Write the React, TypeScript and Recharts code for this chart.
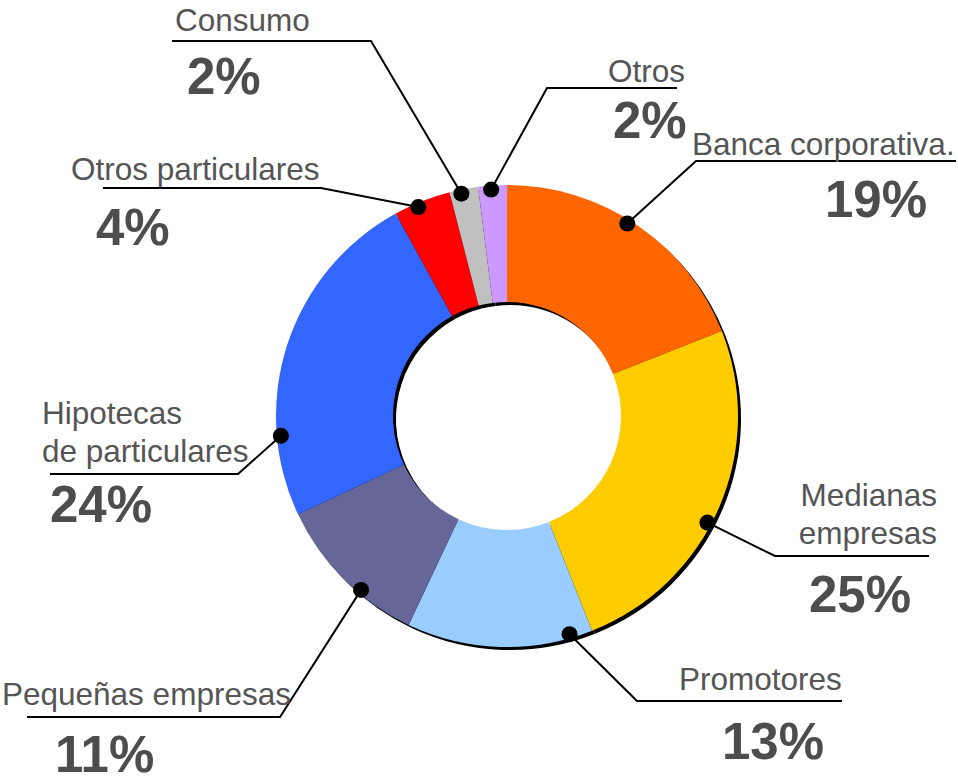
import { PieChart, Pie, Cell } from 'recharts'

// segment data (clockwise from 12 o'clock)
const segments = [
  'Banca corporativa.',
  'Medianas empresas',
  'Promotores',
  'Pequeñas empresas',
  'Hipotecas de particulares',
  'Otros particulares',
  'Consumo',
  'Otros',
]
const shares = [19, 25, 13, 11, 24, 4, 2, 2]
const colors = ['#FF6600', '#FFCC00', '#99CCFF', '#666699', '#3366FF', '#FF0000', '#C0C0C0', '#CC99FF']

// how each label is split into text lines
const labelLines = [
  ['Banca corporativa.'],
  ['Medianas', 'empresas'],
  ['Promotores'],
  ['Pequeñas empresas'],
  ['Hipotecas', 'de particulares'],
  ['Otros particulares'],
  ['Consumo'],
  ['Otros'],
]

const W = 958
const H = 779
const CX = 507
const CY = 416
const OUTER = 231
const INNER = 114

// callout layout: dot angle on the ring, elbow, end of underline, text anchors
const callouts = [
  { dot: 58, elbow: [696, 161], end: 956, nx: 692, ny: 155, anchor: 'start', px: 825, py: 217 },
  { dot: -28, elbow: [775, 556], end: 929, nx: 937, ny: 506, anchor: 'end', px: 809, py: 612 },
  { dot: -74, elbow: [637, 701], end: 842, nx: 679, ny: 690, anchor: 'start', px: 722, py: 759 },
  { dot: -130, elbow: [280, 717], end: 27, nx: 2, ny: 705, anchor: 'start', px: 55, py: 772 },
  { dot: -175, elbow: [238, 474], end: 50, nx: 42, ny: 424, anchor: 'start', px: 50, py: 522 },
  { dot: 113, elbow: [321, 188], end: 103, nx: 71, ny: 180, anchor: 'start', px: 96, py: 245 },
  { dot: 101.6, elbow: [371, 41], end: 172, nx: 175, ny: 31, anchor: 'start', px: 187, py: 94 },
  { dot: 94, elbow: [547, 88], end: 677, nx: 608, ny: 82, anchor: 'start', px: 613, py: 138 },
]

const data = segments.map((name, i) => ({ name, value: shares[i] }))
const total = shares.reduce((s, v) => s + v, 0)

const FONT = '"Liberation Sans", Arial, Helvetica, sans-serif'

function renderCallout(props: any) {
  const { cx, cy, outerRadius, index } = props
  const c = callouts[index]
  const rad = (c.dot * Math.PI) / 180
  const r = outerRadius - 4
  const dx = cx + r * Math.cos(rad)
  const dy = cy - r * Math.sin(rad)
  const pct = `${Math.round((shares[index] / total) * 100)}%`
  return (
    <g key={`callout-${index}`}>
      <polyline
        points={`${dx},${dy} ${c.elbow[0]},${c.elbow[1]} ${c.end},${c.elbow[1]}`}
        fill="none" stroke="#000" strokeWidth={2}
      />
      <circle cx={dx} cy={dy} r={8} fill="#000" />
      <text x={c.nx} y={c.ny} textAnchor={c.anchor} fill="#555555" fontSize={31.5} fontFamily={FONT}>
        {labelLines[index].map((t, j) => (
          <tspan key={j} x={c.nx} dy={j === 0 ? 0 : 38}>{t}</tspan>
        ))}
      </text>
      <text x={c.px} y={c.py} textAnchor="start" fill="#4d4d4d" fontSize={51} fontWeight={700} fontFamily={FONT}>
        {pct}
      </text>
    </g>
  )
}

export default function App() {
  return (
    <div style={{ position: 'absolute', left: 0, top: 0, width: W, height: H, background: '#fff' }}>
      <PieChart width={W} height={H} margin={{ top: 0, right: 0, bottom: 0, left: 0 }}>
        {/* shadow ring */}
        <Pie
          data={data} dataKey="value" cx={CX + 3} cy={CY + 3}
          innerRadius={INNER} outerRadius={OUTER}
          startAngle={90} endAngle={-270}
          stroke="none" fill="#000" isAnimationActive={false}
        />
        <Pie
          data={data} dataKey="value" cx={CX} cy={CY}
          innerRadius={INNER} outerRadius={OUTER}
          startAngle={90} endAngle={-270}
          stroke="none" isAnimationActive={false}
          label={renderCallout} labelLine={false}
        >
          {data.map((d, i) => (
            <Cell key={d.name} fill={colors[i]} />
          ))}
        </Pie>
      </PieChart>
    </div>
  )
}
